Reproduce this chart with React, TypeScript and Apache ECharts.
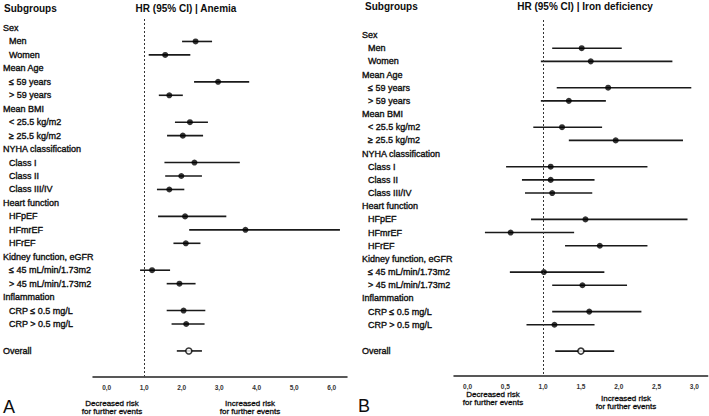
import React, { useEffect, useRef } from "react";
import * as echarts from "echarts";

// Row labels (row index = position from top)
const rowLabels = [
  "Sex", "Men", "Women",
  "Mean Age", "≤ 59 years", "> 59 years",
  "Mean BMI", "< 25.5 kg/m2", "≥ 25.5 kg/m2",
  "NYHA classification", "Class I", "Class II", "Class III/IV",
  "Heart function", "HFpEF", "HFmrEF", "HFrEF",
  "Kidney function, eGFR", "≤ 45 mL/min/1.73m2", "> 45 mL/min/1.73m2",
  "Inflammation", "CRP ≤ 0.5 mg/L", "CRP > 0.5 mg/L",
  "", "Overall",
];
const headerRows = [0, 3, 6, 9, 13, 17, 20, 24];

const subgroupRows = [1, 2, 4, 5, 7, 8, 10, 11, 12, 14, 15, 16, 18, 19, 21, 22];
const overallRow = 24;

// Panel A: Anemia
const anemiaHR = [2.37, 1.56, 2.97, 1.67, 2.22, 2.03, 2.34, 1.99, 1.67, 2.09, 3.70, 2.11, 1.21, 1.94, 2.05, 2.12];
const anemiaLo = [2.01, 1.12, 2.33, 1.39, 1.82, 1.61, 1.54, 1.56, 1.34, 1.37, 2.20, 1.78, 0.89, 1.60, 1.60, 1.73];
const anemiaHi = [2.81, 2.23, 3.80, 2.03, 2.70, 2.57, 3.55, 2.54, 2.07, 3.19, 6.22, 2.50, 1.69, 2.37, 2.63, 2.61];
const anemiaOverall = [2.19, 1.87, 2.54]; // HR, lo, hi

// Panel B: Iron deficiency
const ironHR = [1.51, 1.63, 1.86, 1.34, 1.25, 1.96, 1.10, 1.10, 1.12, 1.56, 0.57, 1.75, 1.01, 1.52, 1.61, 1.15];
const ironLo = [1.12, 0.97, 1.18, 0.97, 0.87, 1.34, 0.51, 0.72, 0.76, 0.84, 0.23, 1.29, 0.56, 1.12, 1.12, 0.78];
const ironHi = [2.04, 2.71, 2.96, 1.83, 1.78, 2.85, 2.38, 1.68, 1.65, 2.91, 1.41, 2.38, 1.81, 2.11, 2.30, 1.68];
const ironOverall = [1.50, 1.16, 1.94];

const FONT = '"Liberation Sans", Arial, sans-serif';
const INK = "#0d0d0d";

function fmtTick(step: number) {
  return (v: number) => {
    if (v < -1e-9) return "";
    const k = v / step;
    if (Math.abs(k - Math.round(k)) > 1e-6) return "";
    return v.toFixed(1).replace(".", ",");
  };
}

function panelSeries(
  idx: number,
  hr: number[], lo: number[], hi: number[], overall: number[],
  headerOffset: number, indentOffset: number
) {
  const ciData = subgroupRows.map((r, i) => [lo[i], hi[i], r]);
  ciData.push([overall[1], overall[2], overallRow]);
  const ptData = subgroupRows.map((r, i) => [hr[i], r]);
  const labelData = rowLabels.map((t, r) => [0, r, t, headerRows.includes(r) ? 1 : 0]);
  return [
    {
      type: "custom",
      xAxisIndex: idx,
      yAxisIndex: idx,
      data: ciData,
      encode: { x: [0, 1], y: 2 },
      z: 2,
      renderItem: (params: any, api: any) => {
        const s = api.coord([api.value(0), api.value(2)]);
        const e = api.coord([api.value(1), api.value(2)]);
        return {
          type: "line",
          shape: { x1: s[0], y1: s[1], x2: e[0], y2: e[1] },
          style: { stroke: "#1a1a1a", lineWidth: 1.6 },
        };
      },
    },
    {
      type: "scatter",
      xAxisIndex: idx,
      yAxisIndex: idx,
      data: ptData,
      symbol: "circle",
      symbolSize: 6,
      itemStyle: { color: "#000" },
      z: 3,
      markLine: {
        silent: true,
        symbol: "none",
        label: { show: false },
        lineStyle: { color: "#333", type: [2, 2], width: 1 },
        data: [{ xAxis: 1 }],
      },
    },
    {
      type: "scatter",
      xAxisIndex: idx,
      yAxisIndex: idx,
      data: [[overall[0], overallRow]],
      symbol: "circle",
      symbolSize: 6,
      itemStyle: { color: "#fff", borderColor: "#000", borderWidth: 1.5 },
      z: 4,
    },
    {
      type: "custom",
      xAxisIndex: idx,
      yAxisIndex: idx,
      data: labelData,
      encode: { y: 1 },
      clip: false,
      renderItem: (params: any, api: any) => {
        const p = api.coord([0, api.value(1)]);
        const isHead = api.value(3) === 1;
        const x = params.coordSys.x + (isHead ? headerOffset : indentOffset);
        return {
          type: "text",
          x,
          y: p[1],
          style: {
            text: labelData[params.dataIndex][2] as string,
            fill: INK,
            stroke: INK,
            lineWidth: 0.35,
            font: `9px ${FONT}`,
            align: "left",
            verticalAlign: "middle",
          },
        };
      },
    },
  ];
}

function makeXAxis(idx: number, min: number, max: number, step: number) {
  return {
    type: "value",
    gridIndex: idx,
    min,
    max,
    splitNumber: idx === 0 ? 7 : 6,
    axisLine: { show: true, onZero: false, lineStyle: { color: "#222", width: 1.5 } },
    axisTick: { show: false },
    splitLine: { show: false },
    axisLabel: {
      show: true,
      margin: 7,
      fontSize: 6.5,
      fontWeight: "bold",
      fontFamily: FONT,
      color: "#333",
      showMinLabel: false,
      showMaxLabel: false,
      formatter: fmtTick(step),
    },
  };
}

function makeYAxis(idx: number, min: number, max: number) {
  return {
    type: "value",
    gridIndex: idx,
    inverse: true,
    min,
    max,
    show: false,
  };
}

export default function App() {
  const ref = useRef<HTMLDivElement>(null);
  useEffect(() => {
    if (!ref.current) return;
    const chart = echarts.init(ref.current, null, { renderer: "svg" });
    const text = (x: number, y: number, t: string, size: number, weight: string, align: string, lh?: number, thick?: boolean) => ({
      type: "text",
      x,
      y,
      style: {
        text: t,
        fill: INK,
        stroke: thick ? INK : undefined,
        lineWidth: thick ? 0.3 : 0,
        font: `${weight} ${size}px ${FONT}`,
        align,
        verticalAlign: "middle",
        lineHeight: lh ?? size * 1.2,
      },
    });
    chart.setOption({
      animation: false,
      backgroundColor: "#fff",
      grid: [
        { left: 93, width: 254, top: 19, height: 357.5 },
        { left: 454, width: 253.7, top: 20, height: 356 },
      ],
      xAxis: [
        makeXAxis(0, -0.365, 6.408, 1),
        makeXAxis(1, -0.179, 3.177, 0.5),
      ],
      yAxis: [
        makeYAxis(0, -0.67, 25.9),
        makeYAxis(1, -1.14, 25.89),
      ],
      series: [
        ...panelSeries(0, anemiaHR, anemiaLo, anemiaHi, anemiaOverall, -90, -84),
        ...panelSeries(1, ironHR, ironLo, ironHi, ironOverall, -92, -86),
      ],
      graphic: [
        text(4, 8, "Subgroups", 10, "bold", "left"),
        text(186, 8, "HR (95% CI) | Anemia", 10, "bold", "center"),
        text(365, 6, "Subgroups", 10, "bold", "left"),
        text(585, 6, "HR (95% CI) | Iron deficiency", 10, "bold", "center"),
        text(112, 407, "Decreased risk\nfor further events", 8, "normal", "center", 8, true),
        text(250, 407, "Increased risk\nfor further events", 8, "normal", "center", 8, true),
        text(3, 407, "A", 18, "normal", "left"),
        text(493, 398, "Decreased risk\nfor further events", 8, "normal", "center", 8, true),
        text(626, 402, "Increased risk\nfor further events", 8, "normal", "center", 8, true),
        text(358, 406, "B", 18, "normal", "left"),
      ],
    });
    return () => chart.dispose();
  }, []);
  return (
    <div
      ref={ref}
      style={{ position: "absolute", left: 0, top: 0, width: 709, height: 416 }}
    />
  );
}
